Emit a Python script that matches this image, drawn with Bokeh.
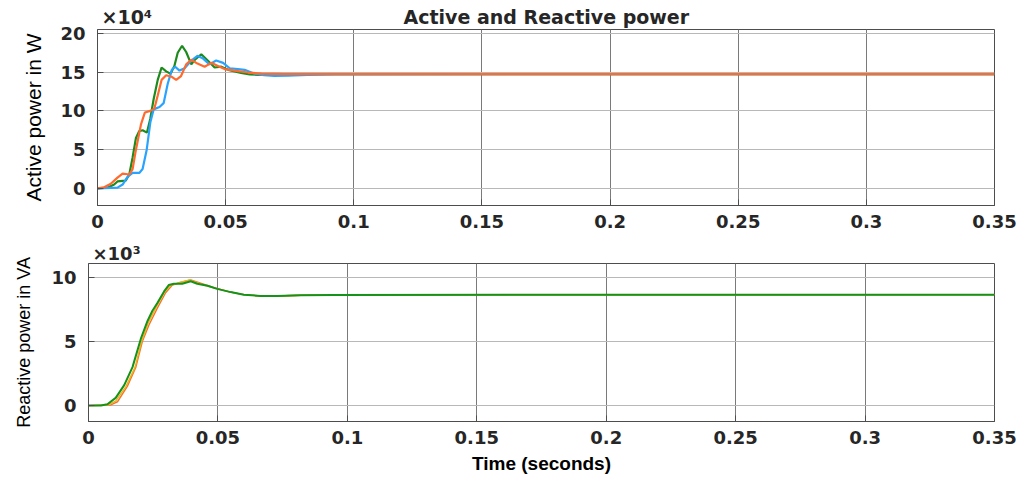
from bokeh.plotting import figure
from bokeh.layouts import column, row
from bokeh.models import Range1d, FixedTicker, CustomJSTickFormatter
from bokeh.embed import file_html
from bokeh.resources import INLINE

# ---------------- data ----------------
# Active power (x10^4 W)
t_green = [0, 0.0039, 0.0065, 0.0078, 0.011, 0.0124, 0.0137, 0.015, 0.0163, 0.0176, 0.0193, 0.0206,
           0.0219, 0.0235, 0.025, 0.0268, 0.0285, 0.030, 0.0313, 0.033, 0.0346, 0.0366, 0.038, 0.0405,
           0.043, 0.0457, 0.0483, 0.051, 0.0535, 0.056, 0.0594, 0.0627, 0.0666, 0.073, 0.35]
p_green = [0, 0.1, 0.5, 0.9, 1.0, 1.8, 4.0, 6.5, 7.4, 7.5, 7.2, 9.0,
           11.5, 14.0, 15.6, 15.1, 14.8, 15.8, 17.5, 18.4, 17.6, 16.0, 16.6, 17.3,
           16.5, 15.6, 15.7, 15.3, 15.1, 14.9, 14.7, 14.65, 14.7, 14.75, 14.75]

t_blue = [0, 0.0078, 0.0098, 0.0117, 0.0137, 0.0163, 0.0176, 0.0192, 0.0206, 0.0219, 0.0242, 0.0258,
          0.0274, 0.029, 0.0303, 0.032, 0.034, 0.0366, 0.039, 0.041, 0.0437, 0.0463, 0.049, 0.0516,
          0.0548, 0.0574, 0.0613, 0.065, 0.069, 0.0744, 0.082, 0.0927, 0.35]
p_blue = [0, 0.1, 0.5, 1.5, 2.0, 2.0, 2.5, 5.0, 8.5, 10.2, 10.5, 11.0,
          13.5, 15.3, 15.7, 15.2, 15.5, 16.5, 17.1, 16.8, 16.0, 16.5, 16.2, 15.5,
          15.4, 15.3, 14.8, 14.6, 14.5, 14.55, 14.65, 14.72, 14.75]

t_orange = [0, 0.0026, 0.0052, 0.0078, 0.0098, 0.0124, 0.0137, 0.015, 0.017, 0.0185, 0.0206, 0.0222,
            0.0235, 0.025, 0.0268, 0.029, 0.0307, 0.0326, 0.0346, 0.0366, 0.039, 0.0418, 0.0444, 0.047,
            0.0496, 0.0535, 0.0587, 0.064, 0.073, 0.35]
p_orange = [0, 0.15, 0.6, 1.4, 1.9, 1.8, 2.5, 5.0, 8.3, 9.8, 10.0, 10.3,
            12.0, 14.0, 14.6, 14.4, 14.0, 14.5, 16.0, 16.6, 16.1, 15.7, 16.2, 15.8,
            15.4, 15.2, 14.95, 14.8, 14.75, 14.75]

# Reactive power (x10^3 VA)
tq_green = [0, 0.0048, 0.0073, 0.0105, 0.0138, 0.017, 0.0202, 0.0228, 0.0247, 0.0266, 0.0292, 0.031,
            0.033, 0.0362, 0.0395, 0.042, 0.046, 0.0497, 0.0549, 0.060, 0.0665, 0.0729, 0.082, 0.0947, 0.35]
q_green = [0, 0, 0.1, 0.6, 1.6, 3.0, 5.2, 6.6, 7.4, 8.0, 8.9, 9.4,
           9.5, 9.5, 9.7, 9.5, 9.35, 9.1, 8.85, 8.65, 8.55, 8.55, 8.6, 8.63, 8.65]

tq_orange = [0, 0.0086, 0.0112, 0.015, 0.0183, 0.0208, 0.0234, 0.0266, 0.0298, 0.0324, 0.0356, 0.0395,
             0.0433, 0.0485, 0.0549, 0.060, 0.0665, 0.0729, 0.082, 0.0947, 0.35]
q_orange = [0, 0.05, 0.3, 1.5, 3.0, 5.0, 6.3, 7.6, 8.8, 9.4, 9.6, 9.8,
            9.55, 9.2, 8.85, 8.65, 8.55, 8.55, 8.6, 8.63, 8.65]

tq_yellow = [0, 0.0075, 0.0105, 0.0145, 0.018, 0.0205, 0.023, 0.0262, 0.0295, 0.032, 0.0352, 0.039,
             0.043, 0.048, 0.0549, 0.060, 0.0665, 0.0729, 0.082, 0.0947, 0.35]
q_yellow = [0, 0.05, 0.35, 1.5, 3.0, 5.0, 6.4, 7.7, 8.9, 9.4, 9.6, 9.8,
            9.5, 9.2, 8.85, 8.65, 8.55, 8.55, 8.6, 8.63, 8.65]

x_ticks = [0, 0.05, 0.1, 0.15, 0.2, 0.25, 0.3, 0.35]
p_ticks = [0, 5, 10, 15, 20]
q_ticks = [0, 5, 10]

title_text = "Active and Reactive power"
p_exp = "×10⁴"
q_exp = "×10³"

# ---------------- styling ----------------
TICK_FONT = "DejaVu Sans"
LABEL_FONT = "Liberation Sans"
fmt = CustomJSTickFormatter(code="return tick.toString();")
NB = "\u00a0"


def style(p, yticks, ylabel):
    p.background_fill_color = "white"
    p.border_fill_color = "white"
    p.outline_line_color = "#4d4d4d"
    p.outline_line_width = 1
    p.xaxis.ticker = FixedTicker(ticks=x_ticks)
    p.yaxis.ticker = FixedTicker(ticks=yticks)
    for ax in (p.xaxis, p.yaxis):
        ax.formatter = fmt
        ax.axis_line_color = "#4d4d4d"
        ax.major_tick_line_color = "#4d4d4d"
        ax.major_tick_in = 6
        ax.major_tick_out = 0
        ax.minor_tick_line_color = None
        ax.major_label_text_font = TICK_FONT
        ax.major_label_text_font_style = "bold"
        ax.major_label_text_font_size = "18px"
        ax.major_label_text_color = "#262626"
    p.xaxis.major_label_standoff = 9
    p.yaxis.major_label_standoff = 12
    p.yaxis.axis_label = ylabel
    p.yaxis.axis_label_text_font = LABEL_FONT
    p.yaxis.axis_label_text_font_style = "normal"
    p.yaxis.axis_label_text_color = "#000000"
    p.xgrid.grid_line_color = "#7a7a7a"
    p.xgrid.grid_line_width = 1
    p.ygrid.grid_line_color = "#b8b8b8"
    p.ygrid.grid_line_width = 1
    p.xgrid.ticker = FixedTicker(ticks=x_ticks)
    p.ygrid.ticker = FixedTicker(ticks=yticks)
    p.title.align = "left"
    p.title.text_font = TICK_FONT
    p.title.text_font_style = "bold"
    p.title.text_color = "#262626"


# ---------------- top: active power ----------------
p1 = figure(width=1028, height=240, output_backend="svg", toolbar_location=None,
            x_range=Range1d(0, 0.35), y_range=Range1d(-2.2, 20.5),
            min_border_left=97, min_border_right=34, min_border_top=29, min_border_bottom=35)
style(p1, p_ticks, "Active power in W")
p1.yaxis.axis_label_text_font_size = "21px"
p1.yaxis.axis_label_standoff = 12
p1.title.text = p_exp + NB * 38 + title_text
p1.title.text_font_size = "19px"
p1.title.offset = 4
p1.title.standoff = 4

p1.line(t_green, p_green, line_color="#1d8a1d", line_width=2.2)
p1.line(t_blue, p_blue, line_color="#2aa3ff", line_width=2.2)
p1.line(t_orange, p_orange, line_color="#ff6a2f", line_width=2.2)

# ---------------- bottom: reactive power ----------------
p2 = figure(width=1028, height=239, output_backend="svg", toolbar_location=None,
            x_range=Range1d(0, 0.35), y_range=Range1d(-1.24, 11.08),
            min_border_left=88, min_border_right=34, min_border_top=22, min_border_bottom=58)
style(p2, q_ticks, "Reactive power in VA")
p2.yaxis.axis_label_text_font_size = "18px"
p2.yaxis.axis_label_standoff = 14
p2.title.text = q_exp
p2.title.text_font_size = "18px"
p2.title.offset = 4
p2.title.standoff = 0
p2.xaxis.axis_label = "Time (seconds)"
p2.xaxis.axis_label_text_font = LABEL_FONT
p2.xaxis.axis_label_text_font_style = "bold"
p2.xaxis.axis_label_text_font_size = "19px"
p2.xaxis.axis_label_text_color = "#000000"
p2.xaxis.axis_label_standoff = 6

p2.line(tq_orange, q_orange, line_color="#f2762a", line_width=1.4)
p2.line(tq_yellow, q_yellow, line_color="#edb120", line_width=1.4)
p2.line(tq_green, q_green, line_color="#14921a", line_width=2.0)

layout = column(p1, row(p2), spacing=0)
open("out.html", "w").write(file_html(layout, INLINE))
